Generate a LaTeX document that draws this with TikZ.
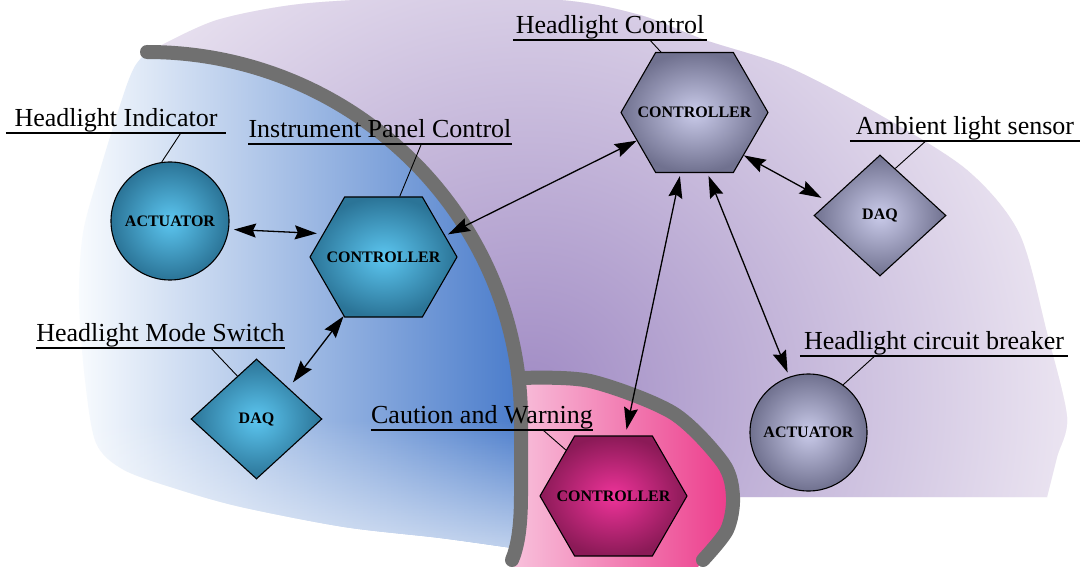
\documentclass[tikz,border=0pt]{standalone}
\usepackage{fontspec}
\setmainfont{Liberation Serif}
\usetikzlibrary{shapes.geometric,shapes.symbols,arrows.meta,calc,fadings}
\definecolor{arcgray}{HTML}{707070}
\definecolor{bIn}{HTML}{5CC6F0}
\definecolor{bOut}{HTML}{2B7497}
\definecolor{vIn}{HTML}{CACBEA}
\definecolor{vOut}{HTML}{70718F}
\definecolor{pIn}{HTML}{EE3399}
\definecolor{pOut}{HTML}{8B1A57}
\definecolor{regBlueL}{HTML}{F8FBFE}
\definecolor{regBlueM}{HTML}{A3BFE5}
\definecolor{regBlueR}{HTML}{4A7CCB}
\definecolor{regPinkL}{HTML}{F8C0DB}
\definecolor{regPinkR}{HTML}{EC3A8A}
\definecolor{regVioIn}{HTML}{A08BC4}
\definecolor{regVioOut}{HTML}{F3EEF6}
\tikzset{
  nodefont/.style={font=\bfseries\fontsize{16}{18}\selectfont},
  hexnode/.style={signal, signal to=east and west, signal pointer angle=120,
    minimum width=147pt, minimum height=120pt, inner xsep=-20pt, inner ysep=0pt,
    draw=black, line width=1.1pt, nodefont},
  circnode/.style={circle, draw=black, line width=1.1pt, minimum size=118pt, inner sep=0pt, nodefont},
  daqnode/.style={diamond, draw=black, line width=1.1pt, minimum width=131pt, minimum height=120pt, inner sep=0pt, nodefont},
  bluefill/.style={inner color=bIn, outer color=bOut},
  violetfill/.style={inner color=vIn, outer color=vOut},
  pinkfill/.style={inner color=pIn, outer color=pOut},
  lbl/.style={anchor=south, inner sep=0pt, text depth=6.3pt, font=\fontsize{26}{30}\selectfont},
  uline/.style={line width=1.1pt},
  lead/.style={line width=0.9pt},
  biarrow/.style={line width=1.3pt, {Stealth[length=22pt,width=14pt,inset=3pt]}-{Stealth[length=22pt,width=14pt,inset=3pt]}},
  arcline/.style={line width=14pt, draw=arcgray, line cap=round}
}
\begin{document}
\begin{tikzpicture}[x=1pt,y=-1pt]
\useasboundingbox (0,0) rectangle (1080,567);
\fill[white] (0,0) rectangle (1080,567);

% violet region
\begin{scope}
  \clip plot[smooth] coordinates {(160,46) (217,20) (300,4) (413,-2) (560,0) (640,15) (705,40) (788,67) (880,115) (967,170) (1019,233) (1047,333) (1067,417) (1057,457) (1047,497)}
    -- (521,497) -- (521,420) .. controls (521,216.9) and (353.4,52) .. (147,52) -- cycle;
  \fill[regVioOut] (0,0) rectangle (1080,567);
  \shade[inner color=regVioIn, outer color=regVioOut] (530,400) circle (600pt);
\end{scope}

% blue region
\shade[left color=regBlueL, middle color=regBlueM, right color=regBlueR]
  plot[smooth] coordinates {(147,52) (135,66) (124,93) (100,170) (83,233) (79,300) (85,380) (96,443) (124,470) (180,490) (241,507) (344,527) (440,538) (512,548)}
  -- (512,560) .. controls (517,548) and (521,530) .. (521,495) -- (521,420) .. controls (521,216.9) and (353.4,52) .. (147,52) -- cycle;
\begin{scope}
  \clip plot[smooth] coordinates {(147,52) (135,66) (124,93) (100,170) (83,233) (79,300) (85,380) (96,443) (124,470) (180,490) (241,507) (344,527) (440,538) (512,548)}
  -- (512,560) .. controls (517,548) and (521,530) .. (521,495) -- (521,420) .. controls (521,216.9) and (353.4,52) .. (147,52) -- cycle;
  \fill[white, path fading=north, fill opacity=0.7] (60,420) rectangle (540,560);
\end{scope}

% pink region
\shade[left color=regPinkL, right color=regPinkR]
  plot[smooth] coordinates {(521,378) (590,381) (673,413) (723,463) (733,497) (727,530) (703,560)}
  -- (698,567) -- (514,567) -- (521,500) -- cycle;

% gray arcs
\draw[arcline] (147,52) .. controls (353.4,52) and (521,216.9) .. (521,420) -- (521,495) .. controls (521,530) and (517,548) .. (512,560);
\draw[arcline] plot[smooth] coordinates {(521,378) (590,381) (673,413) (723,463) (733,497) (727,530) (703,560)};

% nodes
\node[circnode, bluefill] (act1) at (170,221) {ACTUATOR};
\node[hexnode, bluefill] (ipc) at (383.5,257) {CONTROLLER};
\node[daqnode, bluefill] (daq1) at (256.5,419) {DAQ};
\node[hexnode, violetfill] (hc) at (694.5,112.5) {CONTROLLER};
\node[daqnode, violetfill, minimum width=132pt, minimum height=121pt] (als) at (880,215.5) {DAQ};
\node[circnode, violetfill, minimum size=117pt] (hcb) at (808.5,432.5) {ACTUATOR};
\node[hexnode, pinkfill] (cw) at (613.5,496) {CONTROLLER};

% labels
\node[lbl, minimum width=220pt] (hil) at (116,133) {Headlight Indicator};
\node[lbl, minimum width=262pt] (ipcl) at (380,144) {Instrument Panel Control};
\node[lbl, minimum width=194pt] (hcl) at (610,40) {Headlight Control};
\node[lbl, minimum width=230pt] (alsl) at (965,141) {Ambient light sensor};
\node[lbl, minimum width=249pt] (hmsl) at (160.5,348) {Headlight Mode Switch};
\node[lbl, minimum width=218pt] (cwl) at (482,430) {Caution and Warning};
\node[lbl, minimum width=268pt] (hcbl) at (934,356) {Headlight circuit breaker};

\foreach \n in {hil,ipcl,hcl,alsl,hmsl,cwl,hcbl}
  \draw[uline] (\n.south west) -- (\n.south east);

\draw[lead] ($(hil.south west)+(175,0)$) -- (act1.98);
\draw[lead] ($(ipcl.south west)+(173,0)$) -- (ipc.75);
\draw[lead] ($(hcl.south west)+(137,0)$) -- (hc.119);
\draw[lead] ($(alsl.south west)+(76,0)$) -- (als.72);
\draw[lead] ($(hmsl.south west)+(175,0)$) -- (daq1.114);
\draw[lead] ($(cwl.south west)+(172,0)$) -- (cw.136);
\draw[lead] ($(hcbl.south west)+(75,0)$) -- (hcb.54);

% connectors
\draw[biarrow, shorten <=5pt, shorten >=6pt] (act1.-8) -- (ipc.159);
\draw[biarrow, shorten <=7pt] (daq1.44) -- (ipc.-124);
\draw[biarrow, shorten <=3pt] (ipc.19) -- (hc.206);
\draw[biarrow, shorten >=8pt] (hc.-41) -- (als.165);
\draw[biarrow, shorten <=3pt, shorten >=6pt] (hc.-103) -- (cw.79);
\draw[biarrow, shorten <=3pt, shorten >=4.5pt] (hc.-78) -- (hcb.109);
\end{tikzpicture}
\end{document}
